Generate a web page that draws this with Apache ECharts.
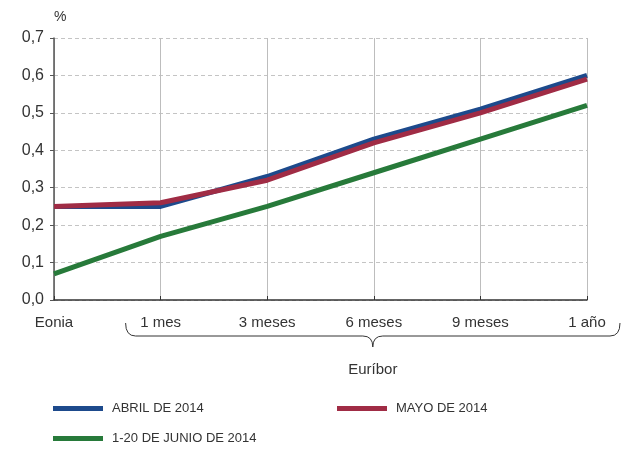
<!DOCTYPE html>
<html>
<head>
<meta charset="utf-8">
<script src="https://cdn.jsdelivr.net/npm/echarts@6/dist/echarts.min.js"></script>
<style>html,body{margin:0;padding:0;background:#fff}#c{width:625px;height:450px}</style>
</head>
<body>
<div id="c"></div>
<script>
const categories = ['Eonia', '1 mes', '3 meses', '6 meses', '9 meses', '1 año'];
const abril = [0.25, 0.25, 0.33, 0.43, 0.51, 0.60];
const mayo = [0.25, 0.26, 0.32, 0.42, 0.50, 0.59];
const junio = [0.07, 0.17, 0.25, 0.34, 0.43, 0.52];
const seriesNames = ['ABRIL DE 2014', 'MAYO DE 2014', '1-20 DE JUNIO DE 2014'];
const colors = ['#1d4a8c', '#a02c45', '#277a3a'];

const chart = echarts.init(document.getElementById('c'), null, {renderer: 'canvas'});
const font = '"Liberation Sans", Arial, sans-serif';
const legendFont = '"Liberation Sans Narrow", "Liberation Sans", sans-serif';
function legendAt(name, left, top) {
  return {
    data: [name], left: left, top: top, orient: 'horizontal',
    icon: 'rect', itemWidth: 50, itemHeight: 5, itemGap: 0,
    textStyle: {fontFamily: legendFont, fontSize: 13, color: '#333', padding: [0, 0, 0, 4]},
    selectedMode: false
  };
}
chart.setOption({
  animation: false,
  color: colors,
  grid: {left: 54, right: 38, top: 38, bottom: 150, containLabel: false},
  legend: [
    legendAt(seriesNames[0], 48, 397),
    legendAt(seriesNames[1], 332, 397),
    legendAt(seriesNames[2], 48, 427)
  ],
  xAxis: {
    type: 'category', data: categories, boundaryGap: false,
    axisLine: {lineStyle: {color: '#333', width: 1.5}},
    axisTick: {show: true, inside: true, length: 4, lineStyle: {color: '#333'}},
    axisLabel: {fontFamily: font, fontSize: 15, color: '#333', margin: 15},
    splitLine: {show: true, lineStyle: {color: '#bdbdbd', width: 1}}
  },
  yAxis: {
    type: 'value', min: 0, max: 0.7, interval: 0.1,
    name: '%', nameLocation: 'end', nameGap: 14,
    nameTextStyle: {fontFamily: font, fontSize: 14, color: '#333', align: 'left'},
    axisLine: {show: true, lineStyle: {color: '#555', width: 1.5}},
    axisTick: {show: true, length: 4, lineStyle: {color: '#555'}},
    axisLabel: {fontFamily: font, fontSize: 16, color: '#333', margin: 10,
      formatter: v => v.toFixed(1).replace('.', ',')},
    splitLine: {show: true, lineStyle: {color: '#c4c4c4', type: [4, 3], width: 1}}
  },
  series: [
    {name: seriesNames[0], type: 'line', data: abril, symbol: 'none', lineStyle: {width: 5, color: colors[0]}},
    {name: seriesNames[1], type: 'line', data: mayo, symbol: 'none', lineStyle: {width: 5, color: colors[1]}},
    {name: seriesNames[2], type: 'line', data: junio, symbol: 'none', lineStyle: {width: 5, color: colors[2]}}
  ]
});

// Brace under Euríbor categories, placed from axis positions
const x1 = chart.convertToPixel({xAxisIndex: 0}, categories[1]);
const x5 = chart.convertToPixel({xAxisIndex: 0}, categories[5]);
const L = x1 - 35, R = x5 + 33, M = (L + R) / 2;
const yT = 323, yH = 336, yTip = 347, r = 10;
const st = {fill: null, stroke: '#333', lineWidth: 1};
function curve(xa, ya, xb, yb, cx, cy) {
  return {type: 'bezierCurve', shape: {x1: xa, y1: ya, x2: xb, y2: yb, cpx1: cx, cpy1: cy}, style: st};
}
function seg(xa, ya, xb, yb) {
  return {type: 'line', shape: {x1: xa, y1: ya, x2: xb, y2: yb}, style: st};
}
chart.setOption({
  graphic: [
    curve(L, yT, L + r, yH, L, yH),
    seg(L + r, yH, M - r, yH),
    curve(M - r, yH, M, yTip, M, yH),
    curve(M, yTip, M + r, yH, M, yH),
    seg(M + r, yH, R - r, yH),
    curve(R - r, yH, R, yT, R, yH),
    {type: 'text', x: M, y: 370, style: {text: 'Euríbor', font: '15px ' + font, fill: '#333', align: 'center', verticalAlign: 'middle'}}
  ]
});
</script>
</body>
</html>
